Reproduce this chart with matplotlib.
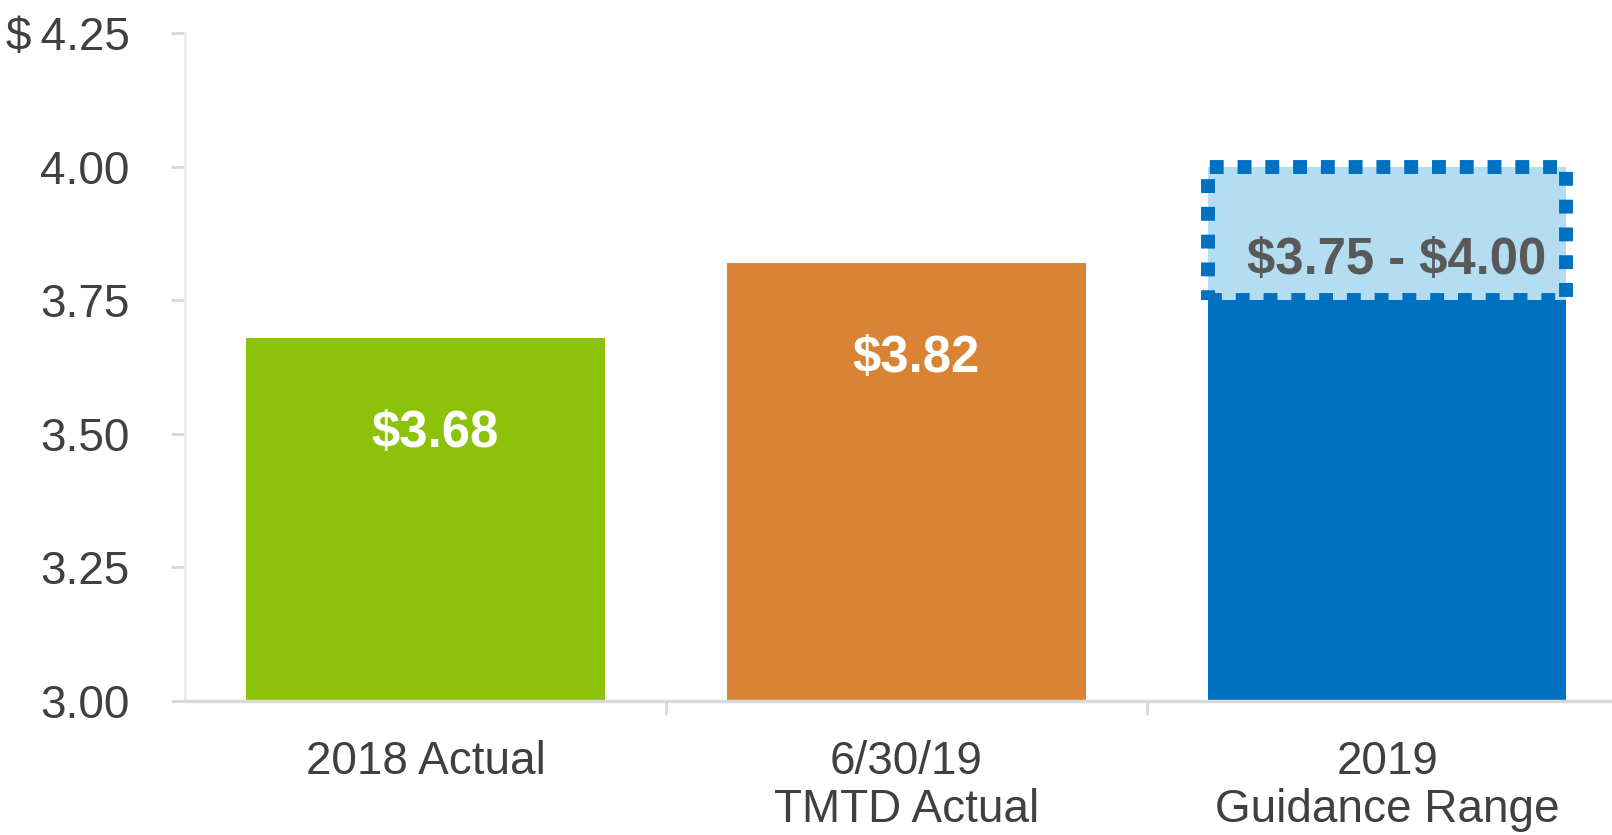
import matplotlib
matplotlib.use("Agg")
import matplotlib.pyplot as plt
from matplotlib.patches import Rectangle

plt.rcParams['font.family'] = ['Liberation Sans', 'DejaVu Sans']

categories = ["2018 Actual", "6/30/19\nTMTD Actual", "2019\nGuidance Range"]
actual_values = [3.68, 3.82]
guidance_low = 3.75
guidance_high = 4.00
bar_labels = ["$3.68", "$3.82"]
range_label = "$3.75 - $4.00"
y_ticks = [3.00, 3.25, 3.50, 3.75, 4.00, 4.25]
y_tick_labels = ["3.00", "3.25", "3.50", "3.75", "4.00", "$\u20094.25"]

green = "#8CC30A"
orange = "#D98334"
blue = "#0070C0"
light_blue = "#B4DDF2"
axis_gray = "#D9D9D9"
text_gray = "#404040"

fig = plt.figure(figsize=(16.12, 8.35), dpi=100)
ax = fig.add_axes([0.1148, 0.1605, 0.895, 0.80])

base = 3.0
width = 0.745
x = range(len(categories))
label_dx = 0.02

ax.bar(0, actual_values[0] - base, bottom=base, width=width, color=green, zorder=2)
ax.bar(1, actual_values[1] - base, bottom=base, width=width, color=orange, zorder=2)
ax.bar(2, guidance_low - base, bottom=base, width=width, color=blue, zorder=2)

rng = Rectangle((2 - width / 2, guidance_low), width, guidance_high - guidance_low,
                facecolor=light_blue, edgecolor=blue, linewidth=10,
                linestyle=(0, (1, 1)), zorder=3)
ax.add_patch(rng)

for xi, v, lab in zip([0, 1], actual_values, bar_labels):
    ax.text(xi + label_dx, v - 0.18, lab, ha="center", va="center", color="white",
            fontsize=36.5, fontweight="bold", zorder=4, parse_math=False)
ax.text(2 + label_dx, guidance_low + 0.075, range_label, ha="center", va="center",
        color="#595959", fontsize=36.5, fontweight="bold", zorder=4,
        parse_math=False)

ax.set_xlim(-0.5, 2.5)
ax.set_ylim(3.0, 4.25)
ax.set_yticks(y_ticks)
ax.set_yticklabels(y_tick_labels)
ax.set_xticks([0.5, 1.5, 2.5], minor=False)
ax.set_xticklabels([])
ax.set_xticks(list(x), minor=True)
ax.set_xticklabels(categories, minor=True, linespacing=1.12)
ax.tick_params(axis="x", which="minor", length=0, pad=28, labelsize=33,
               labelcolor=text_gray)
ax.tick_params(axis="x", which="major", length=10, width=2, color=axis_gray,
               direction="out")
ax.tick_params(axis="y", length=10, width=2, color=axis_gray, pad=30,
               labelsize=33, labelcolor=text_gray)

for s in ["top", "right"]:
    ax.spines[s].set_visible(False)
ax.spines["left"].set_color("#EBEBEB")
ax.spines["left"].set_linewidth(2)
ax.spines["bottom"].set_color(axis_gray)
ax.spines["bottom"].set_linewidth(2.5)
ax.spines["bottom"].set_zorder(5)

fig.savefig("out.png", dpi=100)
